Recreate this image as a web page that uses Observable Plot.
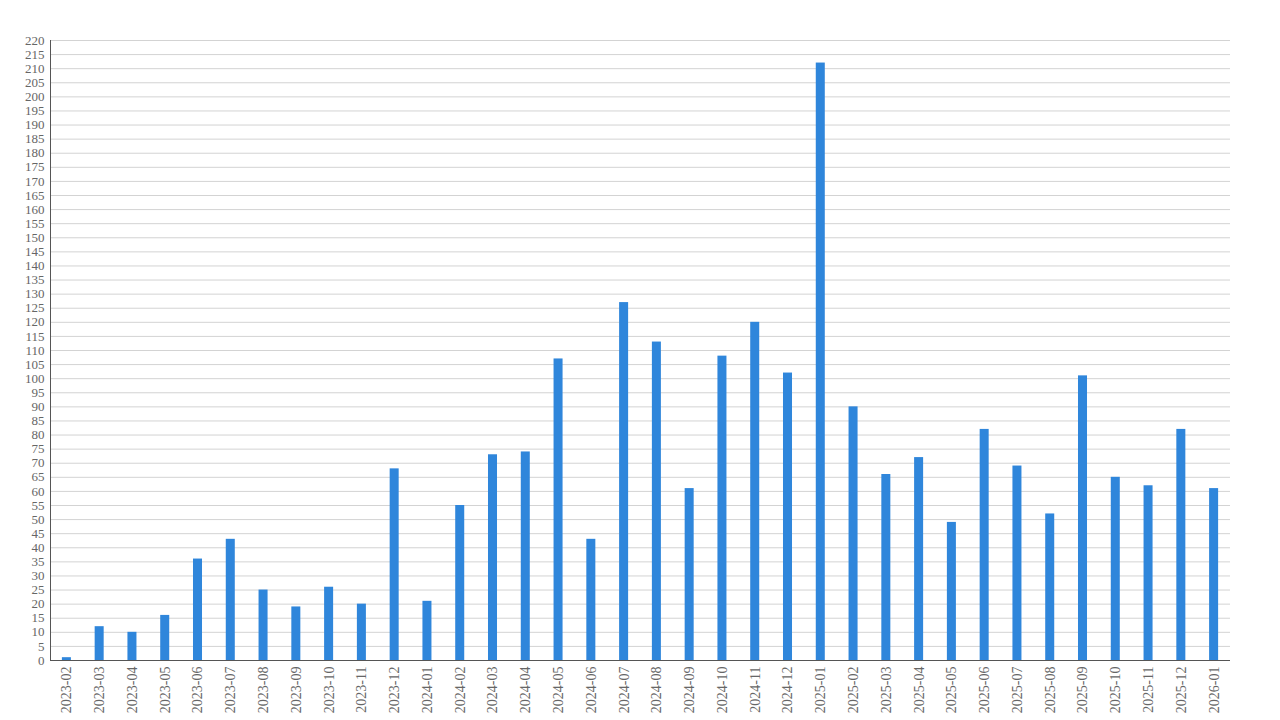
<!DOCTYPE html>
<html>
<head>
<meta charset="utf-8">
<script src="https://cdn.jsdelivr.net/npm/d3@7"></script>
<script src="https://cdn.jsdelivr.net/npm/@observablehq/plot@0.6"></script>
<style>
  html, body { margin: 0; padding: 0; background: #fff; }
  #chart { width: 1280px; height: 720px; }
</style>
</head>
<body>
<div id="chart"></div>
<script>
const months = ["2023-02","2023-03","2023-04","2023-05","2023-06","2023-07","2023-08","2023-09","2023-10","2023-11","2023-12",
  "2024-01","2024-02","2024-03","2024-04","2024-05","2024-06","2024-07","2024-08","2024-09","2024-10","2024-11","2024-12",
  "2025-01","2025-02","2025-03","2025-04","2025-05","2025-06","2025-07","2025-08","2025-09","2025-10","2025-11","2025-12",
  "2026-01"];
const counts = [1,12,10,16,36,43,25,19,26,20,68,
  21,55,73,74,107,43,127,113,61,108,120,102,
  212,90,66,72,49,82,69,52,101,65,62,82,
  61];
const yTicks = d3.range(0, 225, 5);

const data = months.map((m, i) => ({month: m, value: counts[i]}));

const chart = Plot.plot({
  width: 1280,
  height: 720,
  marginTop: 40,
  marginBottom: 60,
  marginLeft: 50,
  marginRight: 50,
  style: {fontFamily: "'Liberation Serif', serif", fontSize: "13px", color: "#666", background: "#fff"},
  x: {domain: months, paddingInner: 0.725, paddingOuter: 0.3625, round: false, label: null},
  y: {domain: [0, 220], label: null},
  marks: [
    Plot.gridY(yTicks, {stroke: "#d3d3d3", strokeOpacity: 1}),
    Plot.barY(data, {x: "month", y: "value", fill: "#2f86db"}),
    Plot.axisY(yTicks, {tickSize: 0, tickPadding: 6, label: null, fill: "#666", fontSize: 13}),
    Plot.axisX({tickSize: 0, tickPadding: 6, tickRotate: -90, label: null, fill: "#666", fontSize: 14}),
    Plot.ruleY([0], {stroke: "#555"}),
    Plot.frame({anchor: "left", stroke: "#555"})
  ]
});
document.getElementById("chart").appendChild(chart);
</script>
</body>
</html>
